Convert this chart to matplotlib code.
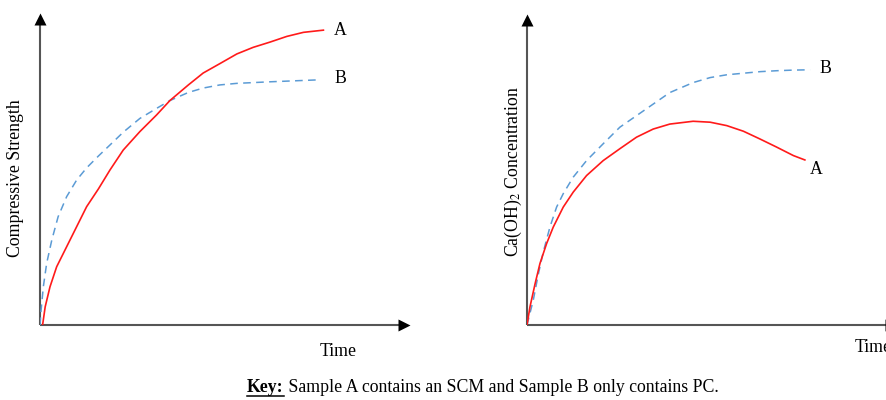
import matplotlib
matplotlib.use("Agg")
import matplotlib.pyplot as plt

# ---- data (arbitrary units: time 0..10, value 0..10) ----
left_a_t = [0.07, 0.14, 0.27, 0.45, 0.72, 0.99, 1.26, 1.58, 1.89, 2.25, 2.70,
            3.15, 3.51, 4.01, 4.41, 4.86, 5.32, 5.76, 6.22, 6.67, 7.12, 7.66]
left_a_v = [0.00, 0.58, 1.22, 1.86, 2.50, 3.14, 3.78, 4.35, 4.95, 5.59, 6.18,
            6.71, 7.17, 7.67, 8.05, 8.35, 8.66, 8.87, 9.04, 9.22, 9.35, 9.42]
left_b_t = [0.0, 0.03, 0.09, 0.18, 0.32, 0.49, 0.72, 0.99, 1.26, 1.58, 1.89,
            2.25, 2.70, 3.15, 3.51, 4.01, 4.41, 4.86, 5.32, 6.22, 7.48]
left_b_v = [0.0, 0.48, 1.22, 1.97, 2.72, 3.46, 4.10, 4.63, 5.02, 5.40, 5.75,
            6.16, 6.60, 6.92, 7.17, 7.43, 7.57, 7.67, 7.72, 7.77, 7.83]

right_a_t = [0.0, 0.08, 0.22, 0.35, 0.53, 0.71, 0.98, 1.25, 1.61, 2.06, 2.51,
             2.96, 3.41, 3.86, 4.49, 4.95, 5.40, 5.85, 6.30, 6.75, 7.20, 7.51]
right_a_v = [0.0, 0.58, 1.33, 1.97, 2.61, 3.14, 3.78, 4.26, 4.79, 5.27, 5.65,
             6.02, 6.28, 6.44, 6.53, 6.50, 6.39, 6.21, 5.96, 5.70, 5.43, 5.29]
right_b_t = [0.0, 0.17, 0.31, 0.44, 0.62, 0.80, 0.98, 1.25, 1.61, 2.06, 2.51,
             2.96, 3.41, 3.86, 4.49, 4.95, 5.40, 5.85, 6.30, 6.75, 7.20, 7.65]
right_b_v = [0.0, 0.80, 1.65, 2.34, 3.14, 3.78, 4.21, 4.74, 5.27, 5.81, 6.34,
             6.71, 7.08, 7.45, 7.77, 7.93, 8.02, 8.07, 8.12, 8.15, 8.17, 8.18]

y_labels = ["Compressive Strength", "Ca(OH)$_2$ Concentration"]
x_label = "Time"
key_bold = "Key:"
key_text = " Sample A contains an SCM and Sample B only contains PC."

RED = "#ff1a1a"
BLUE = "#5b9bd5"
AXIS = "#555555"
SERIF = ["Liberation Serif", "DejaVu Serif"]
FS = 12.8
plt.rcParams["mathtext.fontset"] = "stix"

W, H = 886, 400
fig = plt.figure(figsize=(W / 100, H / 100), dpi=100)


def make_axes(x0, y0, x1, y1):
    ax = fig.add_axes([x0 / W, 1 - y0 / H, (x1 - x0) / W, (y0 - y1) / H])
    ax.set_xlim(0, 10)
    ax.set_ylim(0, 10)
    ax.axis("off")
    ax.plot([0, 0.97], [0, 0], transform=ax.transAxes, color=AXIS, lw=1.5,
            clip_on=False, solid_capstyle="butt")
    ax.plot([0, 0], [0, 0.96], transform=ax.transAxes, color=AXIS, lw=1.5,
            clip_on=False, solid_capstyle="butt")
    ax.plot([0.983], [0], transform=ax.transAxes, marker=">", ms=9,
            color="black", clip_on=False, mec="none")
    ax.plot([0], [0.978], transform=ax.transAxes, marker="^", ms=9,
            color="black", clip_on=False, mec="none")
    return ax


axL = make_axes(40, 325, 410, 12)
axL.plot(left_b_t, left_b_v, color=BLUE, lw=1.1, ls=(0, (5, 3.5)))
axL.plot(left_a_t, left_a_v, color=RED, lw=1.2)
axL.text(7.95, left_a_v[-1], "A", fontsize=FS, family=SERIF, va="center")
axL.text(7.95, left_b_v[-1] + 0.05, "B", fontsize=FS, family=SERIF, va="center")

axR = make_axes(527, 325, 897, 13)
axR.plot(right_b_t, right_b_v, color=BLUE, lw=1.1, ls=(0, (5, 3.5)))
axR.plot(right_a_t, right_a_v, color=RED, lw=1.2)
axR.text(7.9, right_b_v[-1] + 0.05, "B", fontsize=FS, family=SERIF, va="center")
axR.text(7.65, right_a_v[-1] - 0.3, "A", fontsize=FS, family=SERIF, va="center")

# axis titles
fig.text(16 / W, 1 - 178 / H, y_labels[0], rotation=90, fontsize=FS,
         family=SERIF, ha="center", va="center")
fig.text(513 / W, 1 - 171 / H, y_labels[1], rotation=90, fontsize=FS,
         family=SERIF, ha="center", va="center")
fig.text(338 / W, 1 - 352 / H, x_label, fontsize=FS, family=SERIF,
         ha="center", va="center")
fig.text(855 / W, 1 - 348 / H, x_label, fontsize=FS, family=SERIF,
         ha="left", va="center")

# key line
t1 = fig.text(247 / W, 1 - 388 / H, key_bold, fontsize=FS, family=SERIF,
              weight="bold", ha="left", va="center")
fig.canvas.draw()
r = fig.canvas.get_renderer()
bb = t1.get_window_extent(r)
fig.text(bb.x1 / W, 1 - 388 / H, key_text, fontsize=FS, family=SERIF,
         ha="left", va="center")
uy = (bb.y0 + 1) / H
fig.add_artist(plt.Line2D([bb.x0 / W, bb.x1 / W], [uy, uy],
                          transform=fig.transFigure, color="black", lw=1.1))

fig.savefig("out.png", dpi=100)
